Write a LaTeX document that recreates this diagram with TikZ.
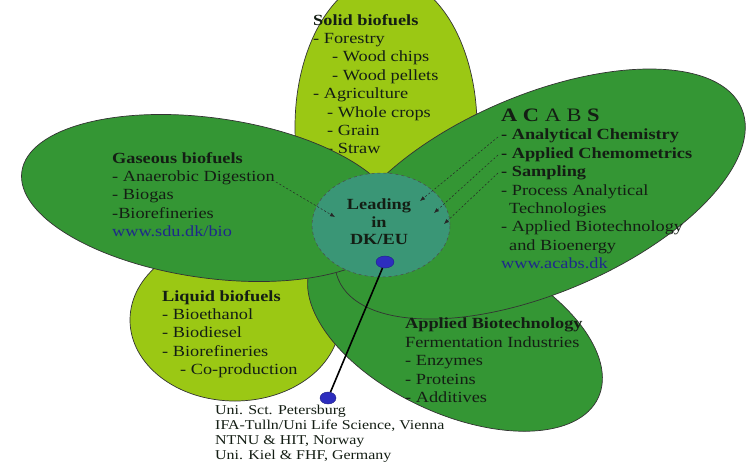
\documentclass[tikz,border=0pt]{standalone}
\usepackage{fontspec}
\setmainfont{Liberation Serif}[FakeStretch=1.18]
\usepackage{tikz}
\usetikzlibrary{shapes.geometric, arrows.meta, positioning}

\definecolor{leafyellow}{RGB}{155,200,20}
\definecolor{leafgreen}{RGB}{52,150,52}
\definecolor{hubteal}{RGB}{58,150,118}
\definecolor{dotblue}{RGB}{45,45,190}
\definecolor{linkblue}{RGB}{30,40,140}
\definecolor{ink}{RGB}{20,30,20}

\begin{document}
\begin{tikzpicture}[
    x=1pt, y=-1pt,
    >=Latex,
    petal/.style={draw=black!80, line width=0.7pt, ellipse, inner sep=0pt},
    hub/.style={draw=black!70, dashed, line width=0.5pt, ellipse, inner sep=0pt, fill=hubteal},
    txt/.style={align=left, anchor=north west, inner sep=0pt, text=ink, font=\fontsize{15.5}{18.4}\selectfont},
    small/.style={align=left, anchor=north west, inner sep=0pt, text=ink, font=\fontsize{13.5}{15}\selectfont},
    feed/.style={->, dashed, dash pattern=on 2pt off 2pt, line width=0.5pt, black!85, >={Latex[length=5pt,width=4pt]}},
    dot/.style={ellipse, draw=dotblue!70!black, fill=dotblue, inner sep=0pt}
]
    \useasboundingbox (0,0) rectangle (749,467);
    \fill[white] (0,0) rectangle (749,467);
    \clip (0,0) rectangle (749,467);

    % Petals, back to front
    \node [petal, fill=leafyellow, minimum width=182, minimum height=300] (Solid) at (386,127) {};
    \node [txt] (SolidText) at (313,14) {\textbf{Solid biofuels}\\
        - Forestry\\
        \hspace*{19pt}- Wood chips\\
        \hspace*{19pt}- Wood pellets\\
        - Agriculture\\
        \hspace*{14pt}- Whole crops\\
        \hspace*{14pt}- Grain\\
        \hspace*{14pt}- Straw};

    \node [petal, fill=leafyellow, minimum width=210, minimum height=162] (Liquid) at (235,320) {};
    \node [petal, fill=leafgreen, minimum width=316, minimum height=165, rotate=-25] (Biotech) at (455,331) {};
    \node [petal, fill=leafgreen, minimum width=438, minimum height=198, rotate=23] (Acabs) at (540,194) {};
    \node [petal, fill=leafgreen, minimum width=380, minimum height=160, rotate=-8] (Gaseous) at (210,198) {};

    % Centre
    \node [hub, minimum width=138, minimum height=104] (Hub) at (381,225) {};
    \node [align=center, inner sep=0pt, text=ink, font=\fontsize{15.5}{17.5}\selectfont\bfseries] (HubLabel) at (379,222) {Leading\\in\\DK/EU};

    % Texts
    \node [txt] (GasText) at (112,152) {\textbf{Gaseous biofuels}\\
        - Anaerobic Digestion\\
        - Biogas\\
        -Biorefineries\\
        \textcolor{linkblue}{www.sdu.dk/bio}};

    \node [anchor=base west, inner sep=0pt, text=ink, font=\fontsize{19}{22}\selectfont] (AcabsHead) at (501,121) {\textbf{A C} A B \textbf{S}};
    \node [txt] (AcabsText) at (501,129) {\textbf{- Analytical Chemistry}\\
        \textbf{- Applied Chemometrics}\\
        \textbf{- Sampling}\\
        - Process Analytical\\
        \hspace*{8pt}Technologies\\
        - Applied Biotechnology\\
        \hspace*{8pt}and Bioenergy\\
        \textcolor{linkblue}{www.acabs.dk}};

    \node [txt] (LiquidText) at (162,290) {\textbf{Liquid biofuels}\\
        - Bioethanol\\
        - Biodiesel\\
        - Biorefineries\\
        \hspace*{18pt}- Co-production};

    \node [txt] (BiotechText) at (405,318) {\textbf{Applied Biotechnology}\\
        Fermentation Industries\\
        - Enzymes\\
        - Proteins\\
        - Additives};

    % Dashed feeds into the centre
    \coordinate (GasTail) at (276,182);
    \coordinate (GasTip) at (335,217);
    \draw [feed] (GasTail) -- (GasTip);
    \foreach \n/\ty/\tx/\tz in {1/137/420/201, 2/155/434/213, 3/173/444/224} {
        \coordinate (AcabsTail\n) at (498,\ty);
        \coordinate (AcabsTip\n) at (\tx,\tz);
        \draw [feed] (AcabsTail\n) -- (AcabsTip\n);
    }

    % Partners pin
    \node [dot, minimum width=18, minimum height=12] (HubDot) at (385,262) {};
    \node [dot, minimum width=16, minimum height=12] (PartnerDot) at (328,398) {};
    \draw [line width=1.6pt, black] (HubDot) -- (PartnerDot);
    \node [small] (Partners) at (215,405) {Uni. Sct. Petersburg\\
        IFA-Tulln/Uni Life Science, Vienna\\
        NTNU \& HIT, Norway\\
        Uni. Kiel \& FHF, Germany};

\end{tikzpicture}
\end{document}
